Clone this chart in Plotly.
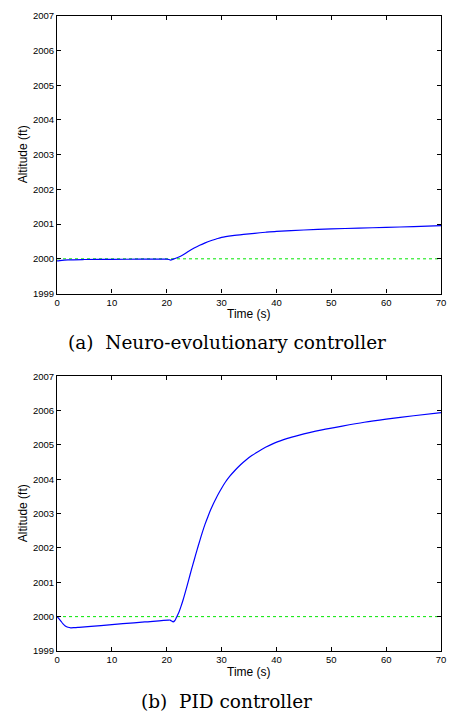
import plotly.graph_objects as go

# Altitude response, neuro-evolutionary controller (a)
time_a = [0, 0.5, 2, 5, 10, 15, 20, 20.4, 20.7, 21.2, 22, 23, 24, 25, 26, 27,
          28, 29, 30, 32, 34, 36, 38, 40, 45, 50, 55, 60, 65, 70]
alt_a = [1999.94, 1999.95, 1999.97, 1999.98, 1999.985, 1999.99, 1999.99, 1999.98,
         1999.965, 1999.99, 2000.04, 2000.12, 2000.22, 2000.31, 2000.39, 2000.46,
         2000.52, 2000.57, 2000.62, 2000.67, 2000.705, 2000.735, 2000.765, 2000.79,
         2000.83, 2000.86, 2000.885, 2000.905, 2000.93, 2000.955]

# Altitude response, PID controller (b)
time_b = [0, 0.3, 0.7, 1.1, 1.5, 2.0, 2.5, 3.2, 4, 8, 12, 16, 20.3, 20.6, 20.9,
          21.15, 21.45, 21.8, 22.2, 22.6, 23.0, 23.5, 24.0, 24.5, 25.0, 25.5,
          26.0, 26.5, 27.0, 27.5, 28.0, 28.5, 29.0, 29.5, 30.0, 30.7, 31.5, 32.5,
          33.5, 34.5, 35.5, 36.7, 38, 39.7, 42, 44, 46, 48.3, 52, 56, 60, 65, 70]
alt_b = [2000, 1999.95, 1999.87, 1999.79, 1999.73, 1999.69, 1999.675, 1999.68,
         1999.69, 1999.74, 1999.795, 1999.845, 1999.9, 1999.9, 1999.87, 1999.85,
         1999.88, 1999.99, 2000.12, 2000.3, 2000.5, 2000.78, 2001.07, 2001.37,
         2001.65, 2001.93, 2002.2, 2002.46, 2002.7, 2002.91, 2003.11, 2003.29,
         2003.45, 2003.6, 2003.74, 2003.92, 2004.09, 2004.27, 2004.43, 2004.57,
         2004.69, 2004.81, 2004.93, 2005.06, 2005.19, 2005.28, 2005.36, 2005.44,
         2005.55, 2005.66, 2005.75, 2005.85, 2005.94]

# Reference altitude
setpoint_time = [0, 70]
setpoint_alt = [2000, 2000]

x_ticks = [0, 10, 20, 30, 40, 50, 60, 70]
y_ticks = [1999, 2000, 2001, 2002, 2003, 2004, 2005, 2006, 2007]

captions = ["(a)  Neuro-evolutionary controller", "(b)  PID controller"]
x_title = "Time (s)"
y_title = "Altitude (ft)"

W, H = 450, 719
tick_font = dict(family="Liberation Sans, Arial, sans-serif", size=9.5, color="black")
title_font = dict(family="Liberation Sans, Arial, sans-serif", size=12, color="black")
caption_font = dict(family="DejaVu Serif, serif", size=18.5, color="black")

fig = go.Figure()

for i, (tx, ty) in enumerate([(time_a, alt_a), (time_b, alt_b)]):
    xa = "x" if i == 0 else "x2"
    ya = "y" if i == 0 else "y2"
    fig.add_trace(go.Scatter(x=setpoint_time, y=setpoint_alt, mode="lines",
                             line=dict(color="#00e600", width=1, dash="dot"),
                             xaxis=xa, yaxis=ya, showlegend=False, hoverinfo="skip"))
    fig.add_trace(go.Scatter(x=tx, y=ty, mode="lines",
                             line=dict(color="#0000ff", width=1.2, shape="spline", smoothing=0.8),
                             xaxis=xa, yaxis=ya, showlegend=False))

x_dom = [55 / W, 446 / W]
y_dom_a = [1 - 292 / H, 1 - 10 / H]
y_dom_b = [1 - 655 / H, 1 - 376 / H]

common_x = dict(range=[0, 70], tickvals=x_ticks, ticks="inside", ticklen=4,
                tickcolor="black", mirror="ticks", showline=True, linecolor="black",
                linewidth=1.2, showgrid=False, zeroline=False, tickfont=tick_font,
                ticklabeloverflow="allow", fixedrange=True)
common_y = dict(range=[1999, 2007], tickvals=y_ticks, ticks="inside", ticklen=4,
                tickcolor="black", mirror="ticks", showline=True, linecolor="black",
                linewidth=1.2, showgrid=False, zeroline=False, tickfont=tick_font,
                ticklabeloverflow="allow", fixedrange=True)

fig.update_layout(
    width=W, height=H,
    margin=dict(l=0, r=0, t=0, b=0),
    paper_bgcolor="white", plot_bgcolor="white",
    xaxis=dict(domain=x_dom, anchor="y", **common_x),
    yaxis=dict(domain=y_dom_a, anchor="x", **common_y),
    xaxis2=dict(domain=x_dom, anchor="y2", **common_x),
    yaxis2=dict(domain=y_dom_b, anchor="x2", **common_y),
)

mid_x = (x_dom[0] + x_dom[1]) / 2
annotations = []
for dom, xt_y, cap_y, cap in [(y_dom_a, 312.5, 342, captions[0]),
                              (y_dom_b, 676.5, 706.5, captions[1])]:
    annotations.append(dict(text=x_title, x=mid_x, y=1 - xt_y / H, xref="paper", yref="paper",
                            showarrow=False, font=title_font, xanchor="center", yanchor="middle"))
    annotations.append(dict(text=y_title, x=20 / W, y=(dom[0] + dom[1]) / 2, xref="paper",
                            yref="paper", showarrow=False, font=title_font, textangle=-90,
                            xanchor="center", yanchor="middle"))
    annotations.append(dict(text=cap, x=228 / W, y=1 - cap_y / H, xref="paper", yref="paper",
                            showarrow=False, font=caption_font, xanchor="center",
                            yanchor="middle"))
fig.update_layout(annotations=annotations)

fig.write_html("out.html")
